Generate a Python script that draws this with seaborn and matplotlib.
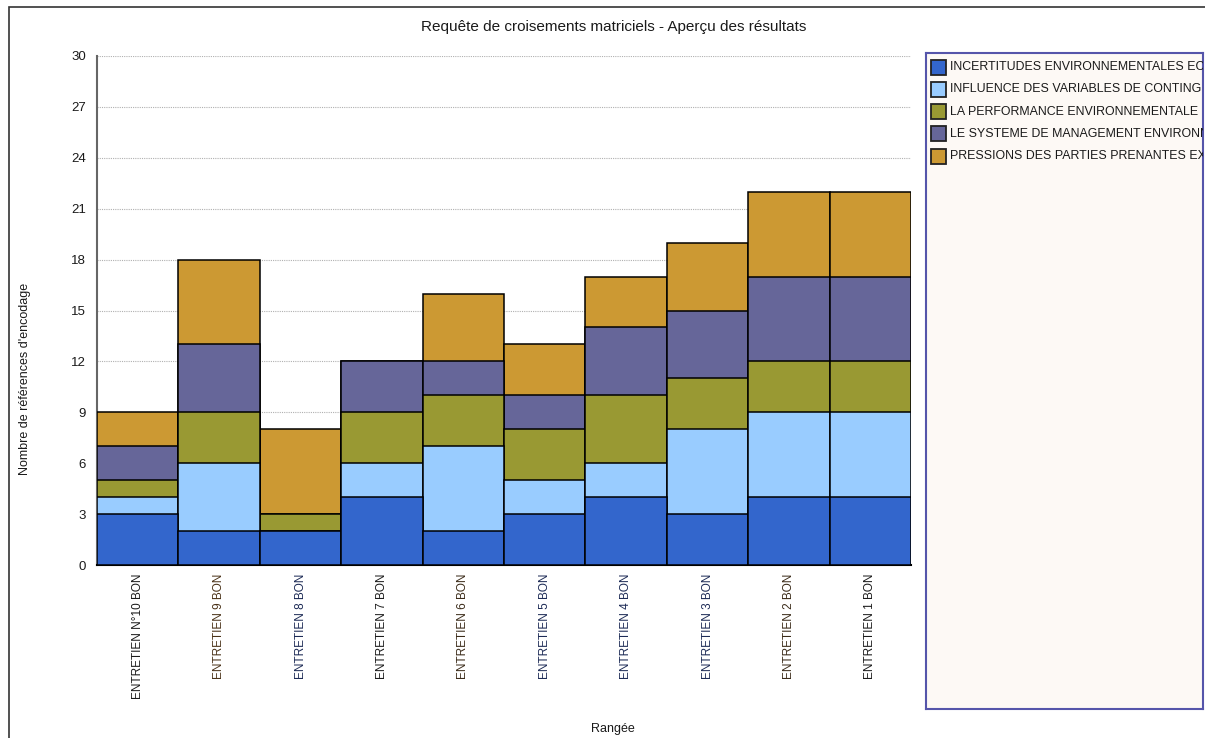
import matplotlib
matplotlib.use("Agg")
import matplotlib.pyplot as plt
from matplotlib.patches import Rectangle
import numpy as np
import pandas as pd
import seaborn as sns

sns.set_theme(style="white")
plt.rcParams["font.family"] = ["Liberation Sans", "DejaVu Sans"]

# Interviews (x axis)
categories = [
    "ENTRETIEN N°10 BON", "ENTRETIEN 9 BON", "ENTRETIEN 8 BON", "ENTRETIEN 7 BON",
    "ENTRETIEN 6 BON", "ENTRETIEN 5 BON", "ENTRETIEN 4 BON", "ENTRETIEN 3 BON",
    "ENTRETIEN 2 BON", "ENTRETIEN 1 BON",
]

# Coded themes (stack order, bottom to top); names are cut by the legend panel
series_names = [
    "INCERTITUDES ENVIRONNEMENTALES EC",
    "INFLUENCE DES VARIABLES DE CONTING",
    "LA PERFORMANCE ENVIRONNEMENTALE",
    "LE SYSTEME DE MANAGEMENT ENVIRONN",
    "PRESSIONS DES PARTIES PRENANTES EX",
]

incertitudes = [3, 2, 2, 4, 2, 3, 4, 3, 4, 4]
influence = [1, 4, 0, 2, 5, 2, 2, 5, 5, 5]
performance = [1, 3, 1, 3, 3, 3, 4, 3, 3, 3]
systeme = [2, 4, 0, 3, 2, 2, 4, 4, 5, 5]
pressions = [2, 5, 5, 0, 4, 3, 3, 4, 5, 5]

colors = ["#3366CC", "#99CCFF", "#999933", "#666699", "#CC9933"]
tick_colors = ["#1a1a1a", "#4a3218", "#1c2a55", "#1a1a1a", "#3a2a18",
               "#1c2a55", "#1c2a55", "#1c2a55", "#3a2a18", "#1a1a1a"]

values = [incertitudes, influence, performance, systeme, pressions]
cumulative = np.cumsum(np.array(values), axis=0)

W, H = 1205, 738
fig = plt.figure(figsize=(W / 100, H / 100), dpi=100)
fig.patch.set_facecolor("white")

# Outer frame of the report panel
fig.add_artist(Rectangle((9 / W, -0.05), 1.2, (H - 7) / H + 0.05,
                         transform=fig.transFigure, fill=False,
                         edgecolor="#333333", linewidth=1.2))

ax = fig.add_axes([97 / W, (H - 565) / H, (911 - 97) / W, (565 - 56) / H])
ax.set_facecolor("white")

# Draw the tallest cumulative layer first so lower layers sit on top of it
for i in range(len(series_names) - 1, -1, -1):
    df = pd.DataFrame({"Rangée": categories, "total": cumulative[i]})
    sns.barplot(data=df, x="Rangée", y="total", color=colors[i], width=1.0,
                saturation=1, edgecolor="black", linewidth=1.1, ax=ax, zorder=3)

ax.set_xlim(-0.5, len(categories) - 0.5)
ax.set_ylim(0, 30)
ax.set_yticks(range(0, 31, 3))
ax.yaxis.grid(True, linestyle=(0, (1, 1)), color="#b0b0b0", linewidth=0.8, zorder=0)
ax.set_axisbelow(True)

for s in ["top", "right"]:
    ax.spines[s].set_visible(False)
ax.spines["left"].set_color("#666666")
ax.spines["left"].set_linewidth(1.5)
ax.spines["bottom"].set_color("black")
ax.spines["bottom"].set_linewidth(1.5)

ax.tick_params(axis="y", length=3, color="#666666", pad=5, labelsize=9.5,
               labelcolor="#1a1a1a")
ax.tick_params(axis="x", length=0, pad=6, labelsize=8.5)
ax.set_xticks(range(len(categories)))
ax.set_xticklabels(categories, rotation=90, va="top", ha="center")
for lbl, c in zip(ax.get_xticklabels(), tick_colors):
    lbl.set_color(c)

ax.set_xlabel("")
ax.set_ylabel("")

fig.text(614 / W, 1 - 27 / H, "Requête de croisements matriciels - Aperçu des résultats",
         ha="center", va="center", fontsize=11, color="#1a1a1a")
fig.text(25 / W, 1 - 379 / H, "Nombre de références d'encodage",
         ha="center", va="center", rotation=90, fontsize=9, color="#1a1a1a")
fig.text(613 / W, 1 - 729 / H, "Rangée",
         ha="center", va="center", fontsize=9, color="#1a1a1a")

# Legend panel
lax = fig.add_axes([926 / W, (H - 709) / H, (1203 - 926) / W, (709 - 53) / H])
lax.set_facecolor("#FDF9F5")
lax.set_xlim(926, 1203)
lax.set_ylim(709, 53)
lax.set_xticks([])
lax.set_yticks([])
for s in lax.spines.values():
    s.set_color("#5555AA")
    s.set_linewidth(1.5)

for i, (name, c) in enumerate(zip(series_names, colors)):
    yc = 67 + i * 22.3
    lax.add_patch(Rectangle((931, yc - 7.5), 15, 15, facecolor=c,
                            edgecolor="#222222", linewidth=1.3))
    lax.text(949.5, yc, name, va="center", ha="left", fontsize=8.9,
             color="#1a1a1a", clip_on=True)

fig.savefig("out.png", dpi=100, facecolor="white")
